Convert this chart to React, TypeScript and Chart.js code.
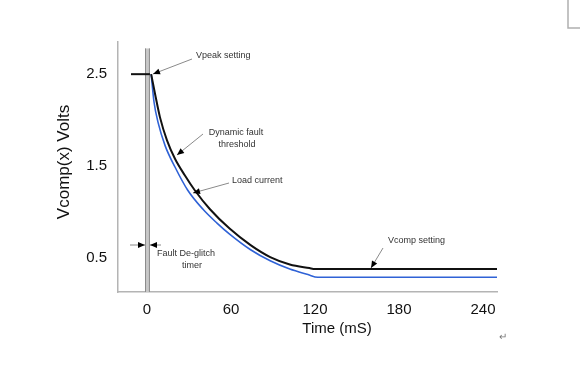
import React, { useEffect, useRef } from "react";
import { Chart, registerables } from "chart.js";

Chart.register(...registerables);

// Dynamic fault threshold (black) — time in mS, volts
const thresholdTime = [3, 5.7, 9.3, 14.3, 20, 27, 34, 45, 59, 74, 88, 102, 116, 120, 250];
const thresholdVolts = [2.5, 2.29, 2.03, 1.78, 1.58, 1.4, 1.24, 1.03, 0.82, 0.64, 0.51, 0.43, 0.39, 0.38, 0.38];

// Load current (blue)
const loadTime = [3, 5, 8, 13, 20, 29, 40, 50, 59, 74, 88, 102, 115, 122, 250];
const loadVolts = [2.5, 2.2, 1.97, 1.72, 1.49, 1.24, 1.03, 0.88, 0.76, 0.59, 0.47, 0.38, 0.32, 0.29, 0.29];

const xTicks = [0, 60, 120, 180, 240];
const yTicks = [0.5, 1.5, 2.5];
const xRange = [-20.7, 250];
const yRange = [0.13, 2.85];

// Annotation anchors (data coordinates)
const vpeakLevel = 2.5;
const deglitchBar = [-1.4, 2.1];
const deglitchTop = 2.78;

const FONT = "'Liberation Sans', Arial, sans-serif";

function arrow(ctx: CanvasRenderingContext2D, x1: number, y1: number, x2: number, y2: number) {
  ctx.save();
  ctx.strokeStyle = "#8a8a8a";
  ctx.lineWidth = 1;
  ctx.beginPath();
  ctx.moveTo(x1, y1);
  ctx.lineTo(x2, y2);
  ctx.stroke();
  const a = Math.atan2(y2 - y1, x2 - x1);
  const L = 7, W = 3;
  ctx.fillStyle = "#000";
  ctx.beginPath();
  ctx.moveTo(x2, y2);
  ctx.lineTo(x2 - L * Math.cos(a) + W * Math.sin(a), y2 - L * Math.sin(a) - W * Math.cos(a));
  ctx.lineTo(x2 - L * Math.cos(a) - W * Math.sin(a), y2 - L * Math.sin(a) + W * Math.cos(a));
  ctx.closePath();
  ctx.fill();
  ctx.restore();
}

const decorPlugin = {
  id: "decor",
  beforeDatasetsDraw(chart: any) {
    const { ctx, scales } = chart;
    const x = scales.x, y = scales.y;
    const bx1 = x.getPixelForValue(deglitchBar[0]);
    const bx2 = x.getPixelForValue(deglitchBar[1]);
    const by = y.getPixelForValue(deglitchTop);
    const bottom = chart.chartArea.bottom;
    ctx.save();
    ctx.fillStyle = "#c8c8c8";
    ctx.fillRect(bx1, by, bx2 - bx1, bottom - by);
    ctx.strokeStyle = "#8c8c8c";
    ctx.lineWidth = 1;
    ctx.beginPath();
    ctx.moveTo(bx1 + 0.5, by);
    ctx.lineTo(bx1 + 0.5, bottom);
    ctx.moveTo(bx2 - 0.5, by);
    ctx.lineTo(bx2 - 0.5, bottom);
    ctx.stroke();
    // Vpeak tick
    const py = y.getPixelForValue(vpeakLevel);
    ctx.strokeStyle = "#111";
    ctx.lineWidth = 2;
    ctx.beginPath();
    ctx.moveTo(x.getPixelForValue(-11.4), py);
    ctx.lineTo(bx2, py);
    ctx.stroke();
    ctx.restore();
  },
  afterDatasetsDraw(chart: any) {
    const { ctx } = chart;
    ctx.save();
    ctx.fillStyle = "#333";
    ctx.font = `9px ${FONT}`;
    ctx.textBaseline = "middle";
    ctx.textAlign = "left";
    ctx.fillText("Vpeak setting", 196, 56);
    ctx.textAlign = "center";
    ctx.fillText("Dynamic fault", 236, 133);
    ctx.fillText("threshold", 237, 145);
    ctx.textAlign = "left";
    ctx.fillText("Load current", 232, 181);
    ctx.fillText("Vcomp setting", 388, 241);
    ctx.fillText("Fault De-glitch", 157, 254);
    ctx.fillText("timer", 182, 266);
    arrow(ctx, 192, 59, 153, 74);
    arrow(ctx, 203, 134, 177, 155);
    arrow(ctx, 229, 183, 193, 193);
    arrow(ctx, 383, 248, 371, 268);
    arrow(ctx, 130, 245, 145, 245);
    arrow(ctx, 161, 245, 150, 245);

    // titles
    ctx.fillStyle = "#111";
    ctx.font = `15px ${FONT}`;
    ctx.textAlign = "center";
    ctx.fillText("Time (mS)", 337, 329);
    ctx.save();
    ctx.translate(64, 162);
    ctx.rotate(-Math.PI / 2);
    ctx.font = `17px ${FONT}`;
    ctx.fillText("Vcomp(x) Volts", 0, 0);
    ctx.restore();

    // page corner mark and return mark
    ctx.strokeStyle = "#b0b0b0";
    ctx.lineWidth = 1.5;
    ctx.beginPath();
    ctx.moveTo(568, 0);
    ctx.lineTo(568, 28);
    ctx.lineTo(580, 28);
    ctx.stroke();
    ctx.fillStyle = "#777";
    ctx.font = `10px ${FONT}`;
    ctx.fillText("\u21B5", 503, 337);
    ctx.restore();
  },
};

export default function App() {
  const ref = useRef<HTMLCanvasElement>(null);
  useEffect(() => {
    const chart = new Chart(ref.current as HTMLCanvasElement, {
      type: "line",
      data: {
        datasets: [
          {
            label: "Dynamic fault threshold",
            data: thresholdTime.map((t, i) => ({ x: t, y: thresholdVolts[i] })),
            borderColor: "#111",
            borderWidth: 2,
            pointRadius: 0,
            cubicInterpolationMode: "monotone",
          },
          {
            label: "Load current",
            data: loadTime.map((t, i) => ({ x: t, y: loadVolts[i] })),
            borderColor: "#2f62d6",
            borderWidth: 1.6,
            pointRadius: 0,
            cubicInterpolationMode: "monotone",
          },
        ],
      },
      options: {
        animation: false,
        responsive: false,
        devicePixelRatio: 1,
        layout: { padding: { top: 42, right: 83, left: 0, bottom: 0 } },
        plugins: { legend: { display: false }, tooltip: { enabled: false } },
        scales: {
          x: {
            type: "linear",
            min: xRange[0],
            max: xRange[1],
            afterBuildTicks: (s: any) => {
              s.ticks = xTicks.map((v) => ({ value: v }));
            },
            afterFit: (s: any) => {
              s.height = 98;
            },
            grid: { display: false, drawTicks: false },
            border: { display: true, color: "#b4b4b4", width: 1.5 },
            ticks: { padding: 9, color: "#111", font: { family: FONT, size: 15 } },
          },
          y: {
            type: "linear",
            min: yRange[0],
            max: yRange[1],
            afterBuildTicks: (s: any) => {
              s.ticks = yTicks.map((v) => ({ value: v }));
            },
            afterFit: (s: any) => {
              s.width = 118;
            },
            grid: { display: false, drawTicks: false },
            border: { display: true, color: "#b4b4b4", width: 1.5 },
            ticks: { padding: 11, color: "#111", font: { family: FONT, size: 15 } },
          },
        },
      },
      plugins: [decorPlugin],
    } as any);
    return () => chart.destroy();
  }, []);
  return (
    <div style={{ position: "fixed", left: 0, top: 0, width: 580, height: 390, background: "#fff" }}>
      <canvas ref={ref} width={580} height={390} />
    </div>
  );
}
